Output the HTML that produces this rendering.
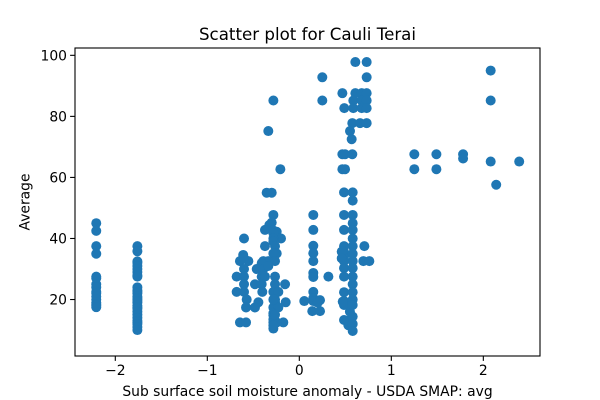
<!DOCTYPE html>
<html>
<head>
<meta charset="utf-8">
<title>Scatter plot for Cauli Terai</title>
<style>
html,body{margin:0;padding:0;background:#fff}
svg{display:block}
text{font-family:"DejaVu Sans","Liberation Sans",sans-serif;fill:#000}
</style>
</head>
<body>
<svg id="chart" width="600" height="400" viewBox="0 0 600 400" xmlns="http://www.w3.org/2000/svg">
  <rect x="0" y="0" width="600" height="400" fill="#fff"/>
  <g id="points"></g>
  <g id="ticks"></g>
  <rect x="75" y="48" width="465" height="308" fill="none" stroke="#000" stroke-width="1.1"/>
  <text x="307.5" y="40" font-size="16.67" text-anchor="middle">Scatter plot for Cauli Terai</text>
  <text x="307.5" y="396" font-size="13.89" text-anchor="middle">Sub surface soil moisture anomaly - USDA SMAP: avg</text>
  <text x="0" y="0" font-size="13.89" text-anchor="middle" transform="translate(29.5,202) rotate(-90)">Average</text>
</svg>
<script>
const xTickValues = [-2, -1, 0, 1, 2];
const xTickLabels = ["\u22122", "\u22121", "0", "1", "2"];
const yTickValues = [20, 40, 60, 80, 100];
const yTickLabels = ["20", "40", "60", "80", "100"];

const farLeftX = [-2.207,-2.207,-2.207,-2.207,-2.207,-2.207,-2.207,-2.207,-2.207,-2.207,-2.207,-2.207,-2.207,-2.207,-2.207,-2.207];
const farLeftY = [45,42.5,37.5,35,27.5,27,25,24,22.5,22,21,20,19,18.5,18,17.5];

const secondX = [-1.76,-1.76,-1.76,-1.76,-1.76,-1.76,-1.76,-1.76,-1.76,-1.76,-1.76,-1.76,-1.76,-1.76,-1.76,-1.76,-1.76,-1.76,-1.76,-1.76,-1.76,-1.76,-1.76,-1.76,-1.76,-1.76,-1.76,-1.76,-1.76];
const secondY = [37.5,35.8,32.5,32,31,30,29,28,27.5,24,23,22.5,22,21,20.5,20,19.5,19,18,17.5,17,16,15,14,13,12.5,12,11,10];

const middleX = [-0.355,-0.30,-0.282,-0.30,-0.326,-0.373,-0.282,-0.246,-0.199,-0.282,-0.601,-0.282,-0.282,-0.373,-0.264,-0.246,-0.282,-0.61,-0.645,-0.554,-0.601,-0.264,-0.391,-0.337,-0.409,-0.463,-0.601,-0.391,-0.337,-0.681,-0.601,-0.409,-0.264,-0.373,-0.601,-0.482,-0.409,-0.155,-0.264,-0.681,-0.601,-0.402,-0.282,-0.228,-0.572,-0.264,-0.148,-0.264,-0.445,-0.579,-0.482,-0.282,-0.228,-0.282,-0.645,-0.579,-0.282,-0.174,-0.246,-0.282,-0.282,-0.282,-0.282,-0.282,-0.264];
const middleY = [55,55,47.7,45.2,44.4,42.8,42.6,42.2,40,41.7,40,40,39,37.5,37.5,35.1,35.1,34.6,32.6,32.6,33.5,32.6,32.6,32.6,31.9,30,30,30,31,27.5,27.5,27.5,27.5,27.5,25,25,25,25,25,22.5,22.5,22.5,22.5,22.5,20,20,19.1,19.1,19.1,17.4,17.4,17.4,17.4,14.9,12.5,12.5,12.5,12.5,12.5,10.5,20,15.5,13.5,11.5,15];

const nearZeroX = [0.152,0.152,0.152,0.152,0.152,0.152,0.152,0.152,0.152,0.152,0.054,0.225,0.141,0.225,0.316,0.2];
const nearZeroY = [47.7,42.8,37.6,35.2,32.6,28.7,27.4,22.5,20.5,19.5,19.5,19.8,16.2,16.2,27.5,19];

const rightColumnX = [0.486,0.486,0.486,0.486,0.486,0.486,0.486,0.486,0.486,0.486,0.486,0.486,0.486,0.461,0.461,0.472,0.533,0.52,0.55,0.58,0.58,0.58,0.58,0.58,0.58,0.58,0.58,0.58,0.58,0.58,0.58,0.58,0.58,0.58,0.58,0.58,0.58,0.707,0.696,0.761];
const rightColumnY = [55.1,47.7,42.8,37.5,35.7,34,32.6,30.3,27.5,22.4,19.5,18.2,13.3,35.7,33.5,19.3,11.6,13,16,55.1,52.4,47.7,45,42.8,40,37.5,35,32.6,30.3,27.5,25,22.4,20,18.2,14.4,12,9.7,37.5,32.6,32.6];

const topClusterX = [0.609,0.732,0.25,0.732,0.468,0.609,0.678,0.732,-0.282,0.25,0.587,0.678,0.732,0.489,0.587,0.678,0.732,0.576,0.66,0.732,-0.337,0.551,0.569,0.468,0.497,0.576,-0.206,0.468,0.497];
const topClusterY = [97.8,97.8,92.8,92.8,87.6,87.6,87.6,87.6,85.2,85.2,85.2,85.2,85.2,82.7,82.7,82.7,82.7,77.8,77.8,77.8,75.2,75.2,72.5,67.6,67.6,67.6,62.7,62.7,62.7];

const farRightX = [2.08,2.08,1.25,1.49,1.78,1.78,2.08,2.39,1.25,1.49,2.14];
const farRightY = [95,85.2,67.6,67.6,67.6,66.2,65.2,65.2,62.7,62.7,57.6];

const xValues = [].concat(farLeftX, secondX, middleX, nearZeroX, rightColumnX, topClusterX, farRightX);
const yValues = [].concat(farLeftY, secondY, middleY, nearZeroY, rightColumnY, topClusterY, farRightY);

const SVG_NS = "http://www.w3.org/2000/svg";
const xDomainMin = -2.438, xDomainMax = 2.616, yDomainMin = 1.5, yDomainMax = 102.4;
const plotLeft = 75, plotRight = 540, plotTop = 48, plotBottom = 356;

function xScale(v) {
  return plotLeft + (v - xDomainMin) / (xDomainMax - xDomainMin) * (plotRight - plotLeft);
}
function yScale(v) {
  return plotBottom - (v - yDomainMin) / (yDomainMax - yDomainMin) * (plotBottom - plotTop);
}

const pointsGroup = document.getElementById("points");
xValues.forEach(function (xv, i) {
  const c = document.createElementNS(SVG_NS, "circle");
  
  
  c.setAttribute("cx", xScale(xv).toFixed(2));
  c.setAttribute("cy", yScale(yValues[i]).toFixed(2));
  c.setAttribute("r", "5");
  c.setAttribute("fill", "#1f77b4");
  pointsGroup.appendChild(c);
});

const ticksGroup = document.getElementById("ticks");
xTickValues.forEach(function (tv, i) {
  const x = xScale(tv);
  const line = document.createElementNS(SVG_NS, "line");
  
  
  line.setAttribute("x1", x);
  line.setAttribute("x2", x);
  line.setAttribute("y1", plotBottom);
  line.setAttribute("y2", plotBottom + 4.9);
  line.setAttribute("stroke", "#000");
  line.setAttribute("stroke-width", "1.1");
  ticksGroup.appendChild(line);
  const t = document.createElementNS(SVG_NS, "text");
  
  
  t.setAttribute("x", x);
  t.setAttribute("y", plotBottom + 19);
  t.setAttribute("font-size", "13.89");
  t.setAttribute("text-anchor", "middle");
  t.textContent = xTickLabels[i];
  ticksGroup.appendChild(t);
});
yTickValues.forEach(function (tv, i) {
  const y = yScale(tv);
  const line = document.createElementNS(SVG_NS, "line");
  
  
  line.setAttribute("x1", plotLeft - 4.9);
  line.setAttribute("x2", plotLeft);
  line.setAttribute("y1", y);
  line.setAttribute("y2", y);
  line.setAttribute("stroke", "#000");
  line.setAttribute("stroke-width", "1.1");
  ticksGroup.appendChild(line);
  const t = document.createElementNS(SVG_NS, "text");
  
  
  t.setAttribute("x", plotLeft - 8);
  t.setAttribute("y", y + 5);
  t.setAttribute("font-size", "13.89");
  t.setAttribute("text-anchor", "end");
  t.textContent = yTickLabels[i];
  ticksGroup.appendChild(t);
});
</script>
</body>
</html>
